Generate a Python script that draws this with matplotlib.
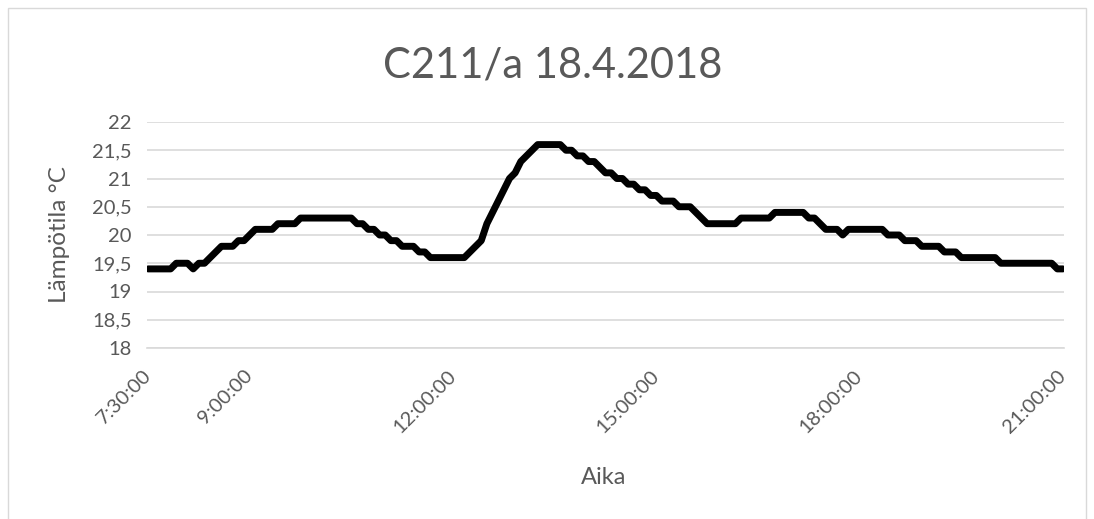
import numpy as np
import pandas as pd
import matplotlib
matplotlib.use('Agg')
import matplotlib.pyplot as plt
from matplotlib.patches import Rectangle

plt.rcParams['font.family'] = ['Lato', 'DejaVu Sans']

# measurements every 5 minutes, 7:30 - 21:00
times = pd.date_range('2018-04-18 07:30', '2018-04-18 21:00', freq='5min')
temps = [
    19.4, 19.4, 19.4, 19.4, 19.4, 19.5, 19.5, 19.5, 19.4, 19.5, 19.5, 19.6,
    19.7, 19.8, 19.8, 19.8, 19.9, 19.9, 20.0, 20.1, 20.1, 20.1, 20.1, 20.2,
    20.2, 20.2, 20.2, 20.3, 20.3, 20.3, 20.3, 20.3, 20.3, 20.3, 20.3, 20.3,
    20.3, 20.2, 20.2, 20.1, 20.1, 20.0, 20.0, 19.9, 19.9, 19.8, 19.8, 19.8,
    19.7, 19.7, 19.6, 19.6, 19.6, 19.6, 19.6, 19.6, 19.6, 19.7, 19.8, 19.9,
    20.2, 20.4, 20.6, 20.8, 21.0, 21.1, 21.3, 21.4, 21.5, 21.6, 21.6, 21.6,
    21.6, 21.6, 21.5, 21.5, 21.4, 21.4, 21.3, 21.3, 21.2, 21.1, 21.1, 21.0,
    21.0, 20.9, 20.9, 20.8, 20.8, 20.7, 20.7, 20.6, 20.6, 20.6, 20.5, 20.5,
    20.5, 20.4, 20.3, 20.2, 20.2, 20.2, 20.2, 20.2, 20.2, 20.3, 20.3, 20.3,
    20.3, 20.3, 20.3, 20.4, 20.4, 20.4, 20.4, 20.4, 20.4, 20.3, 20.3, 20.2,
    20.1, 20.1, 20.1, 20.0, 20.1, 20.1, 20.1, 20.1, 20.1, 20.1, 20.1, 20.0,
    20.0, 20.0, 19.9, 19.9, 19.9, 19.8, 19.8, 19.8, 19.8, 19.7, 19.7, 19.7,
    19.6, 19.6, 19.6, 19.6, 19.6, 19.6, 19.6, 19.5, 19.5, 19.5, 19.5, 19.5,
    19.5, 19.5, 19.5, 19.5, 19.5, 19.4, 19.4,
]
x_ticklabels = ['7:30:00', '9:00:00', '12:00:00', '15:00:00', '18:00:00', '21:00:00']
y_ticks = [18, 18.5, 19, 19.5, 20, 20.5, 21, 21.5, 22]

x = times.hour + times.minute / 60
x_ticks = [int(s.split(':')[0]) + int(s.split(':')[1]) / 60 for s in x_ticklabels]

W, H = 1094, 519
txt = '#595959'
grid = '#d9d9d9'

fig = plt.figure(figsize=(W / 100, H / 100), dpi=100)
ax = fig.add_axes([147 / W, 1 - 348 / H, (1064 - 147) / W, (348 - 122) / H])

ax.plot(x, temps, color='black', lw=5, solid_joinstyle='round', solid_capstyle='round')

ax.set_xlim(7.5 - 0.015, 21 + 0.015)
ax.set_ylim(18, 22)
ax.set_yticks(y_ticks)
ax.set_yticklabels([f'{v:g}'.replace('.', ',') for v in y_ticks])
ax.set_xticks(x_ticks)
ax.set_xticklabels(x_ticklabels, rotation=45, ha='right', va='center', rotation_mode='anchor')

ax.grid(axis='y', color=grid, lw=1.2)
ax.set_axisbelow(True)
for s in ['top', 'right', 'left']:
    ax.spines[s].set_visible(False)
ax.spines['bottom'].set_color(grid)
ax.spines['bottom'].set_linewidth(1.2)
ax.tick_params(length=0, colors=txt, labelsize=14.5)
ax.tick_params(axis='y', pad=11)
ax.tick_params(axis='x', pad=18)

fig.text(553 / W, 1 - 65 / H, 'C211/a 18.4.2018', ha='center', va='center', fontsize=30, color=txt)
fig.text(60 / W, 1 - 235 / H, 'Lämpötila °C', rotation=90, ha='center', va='center', fontsize=17.5, color=txt)
fig.text(604 / W, 1 - 478 / H, 'Aika', ha='center', va='center', fontsize=17, color=txt)

fig.add_artist(Rectangle((8 / W, -0.05), (1086 - 8) / W, 1.05 - 8 / H, transform=fig.transFigure,
                         fill=False, edgecolor=grid, lw=1))

fig.savefig('out.png', dpi=100)
